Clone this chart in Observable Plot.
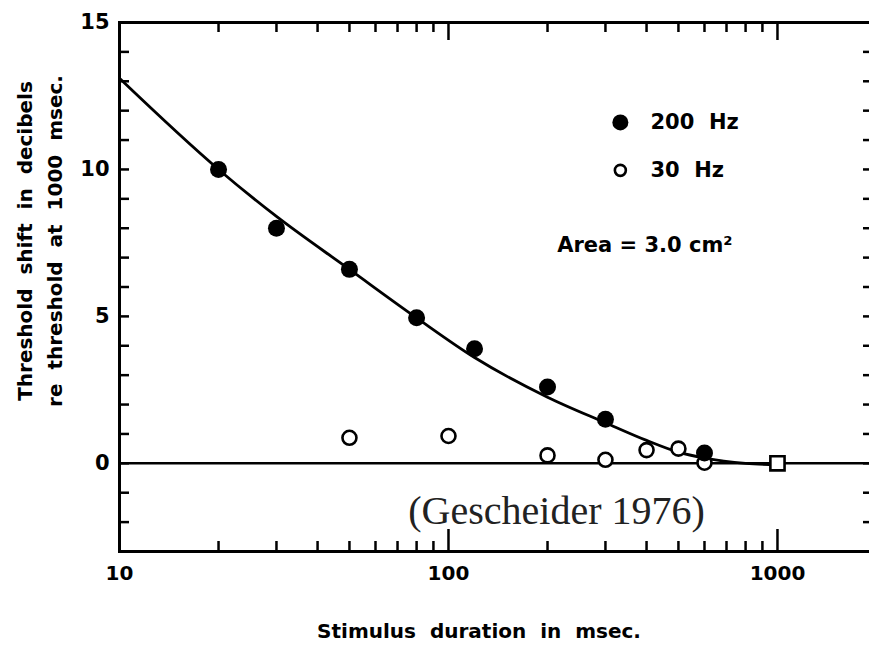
<!DOCTYPE html>
<html>
<head>
<meta charset="utf-8">
<script src="https://cdn.jsdelivr.net/npm/d3@7"></script>
<script src="https://cdn.jsdelivr.net/npm/@observablehq/plot@0.6"></script>
<style>
  html, body { margin: 0; padding: 0; background: #fff; overflow: hidden; }
  #chart svg { display: block; max-width: none !important; width: 884px !important; height: 650px !important; }
</style>
</head>
<body>
<div id="chart"></div>
<script>
// Stimulus durations (msec) and threshold shifts (dB re threshold at 1000 msec)
const dur200 = [20, 30, 50, 80, 120, 200, 300, 600];
const shift200 = [10.0, 8.0, 6.6, 4.95, 3.9, 2.6, 1.5, 0.35];

const dur30 = [50, 100, 200, 300, 400, 500, 600];
const shift30 = [0.87, 0.93, 0.27, 0.12, 0.45, 0.5, 0.02];

// Reference point at 1000 msec
const refDur = [1000];
const refShift = [0];

// Fitted curve for the 200 Hz data
const curveDur = [10, 20, 30, 50, 80, 120, 200, 300, 400, 500, 600, 800, 1000];
const curveShift = [13.1, 10.0, 8.4, 6.6, 4.95, 3.6, 2.25, 1.38, 0.78, 0.38, 0.18, 0.0, -0.05];

// Axis ticks
const xLabelTicks = [10, 100, 1000];
const xMinorTicks = [20, 30, 40, 50, 60, 70, 80, 90, 200, 300, 400, 500, 600, 700, 800, 900];
const xMajorInner = [100, 1000];
const yLabelTicks = [0, 5, 10, 15];
const yInnerTicks = [-2, -1, 0, 1, 2, 3, 4, 5, 6, 7, 8, 9, 10, 11, 12, 13, 14];

const pts200 = dur200.map((d, i) => ({d, s: shift200[i]}));
const pts30 = dur30.map((d, i) => ({d, s: shift30[i]}));
const ptsRef = refDur.map((d, i) => ({d, s: refShift[i]}));
const fit = curveDur.map((d, i) => ({d, s: curveShift[i]}));

const W = 884, H = 650;
const mL = 119, mR = 8, mT = 22, mB = 99;
const fw = W - mL - mR, fh = H - mT - mB;

const font = {fontFamily: "DejaVu Sans", fontWeight: "bold"};

const chart = Plot.plot({
  width: W,
  height: H,
  marginLeft: mL,
  marginRight: mR,
  marginTop: mT,
  marginBottom: mB,
  style: {background: "#fff", color: "#000", fontFamily: "DejaVu Sans"},
  x: {type: "log", domain: [10, 2000]},
  y: {domain: [-3, 15]},
  marks: [
    // tick labels
    Plot.axisX({ticks: xLabelTicks, tickSize: 0, tickPadding: 14, tickFormat: d => String(d), fontSize: 20, ...font, label: null}),
    Plot.axisY({ticks: yLabelTicks, tickSize: 0, tickPadding: 10, tickFormat: d => String(d), fontSize: 21, ...font, label: null}),
    // inward ticks on all four sides
    Plot.tickX(xMinorTicks, {x: d => d, insetTop: fh - 10, strokeWidth: 2.5}),
    Plot.tickX(xMajorInner, {x: d => d, insetTop: fh - 22, strokeWidth: 2.5}),
    Plot.tickX(xMinorTicks, {x: d => d, insetBottom: fh - 10, strokeWidth: 2.5}),
    Plot.tickX(xMajorInner, {x: d => d, insetBottom: fh - 18, strokeWidth: 2.5}),
    Plot.tickY(yInnerTicks, {y: d => d, insetRight: fw - 10, strokeWidth: 2.5}),
    Plot.tickY(yInnerTicks, {y: d => d, insetLeft: fw - 13, strokeWidth: 2.5}),
    Plot.frame({stroke: "#000", strokeWidth: 3}),
    // zero reference line
    Plot.ruleY([0], {strokeWidth: 2.5}),
    // fitted curve
    Plot.line(fit, {x: "d", y: "s", curve: "monotone-x", strokeWidth: 2.8}),
    // 30 Hz data (open circles)
    Plot.dot(pts30, {x: "d", y: "s", r: 7, stroke: "#000", strokeWidth: 2.6, fill: "#fff"}),
    // 200 Hz data (filled circles)
    Plot.dot(pts200, {x: "d", y: "s", r: 8.5, fill: "#000", stroke: "none"}),
    // 1000 msec reference
    Plot.dot(ptsRef, {x: "d", y: "s", symbol: "square", r: 8, stroke: "#000", strokeWidth: 2.6, fill: "#fff"}),
    // legend
    Plot.dot([{d: 333, s: 11.6}], {x: "d", y: "s", r: 8, fill: "#000", stroke: "none"}),
    Plot.dot([{d: 333, s: 9.97}], {x: "d", y: "s", r: 5.5, stroke: "#000", strokeWidth: 2.6, fill: "#fff"}),
    Plot.text([{d: 411, s: 11.6, t: "200  Hz"}], {x: "d", y: "s", text: "t", textAnchor: "start", fontSize: 21, ...font}),
    Plot.text([{d: 411, s: 9.97, t: "30  Hz"}], {x: "d", y: "s", text: "t", textAnchor: "start", fontSize: 21, ...font}),
    Plot.text([{d: 214, s: 7.41, t: "Area = 3.0 cm²"}], {x: "d", y: "s", text: "t", textAnchor: "start", fontSize: 21, ...font}),
    // source
    Plot.text([{d: 213, s: -1.62, t: "(Gescheider 1976)"}], {x: "d", y: "s", text: "t", fontSize: 40, fontFamily: "Liberation Serif", fill: "#222"}),
    // axis titles
    Plot.text(["Threshold  shift  in  decibels\nre  threshold  at  1000  msec."], {
      frameAnchor: "left", textAnchor: "middle", rotate: -90, dx: -82, dy: -46, lineHeight: 1.5,
      fontSize: 20, ...font
    }),
    Plot.text(["Stimulus  duration  in  msec."], {
      frameAnchor: "bottom", dx: -19, dy: 86, fontSize: 20, ...font
    })
  ]
});

document.getElementById("chart").appendChild(chart);
</script>
</body>
</html>
